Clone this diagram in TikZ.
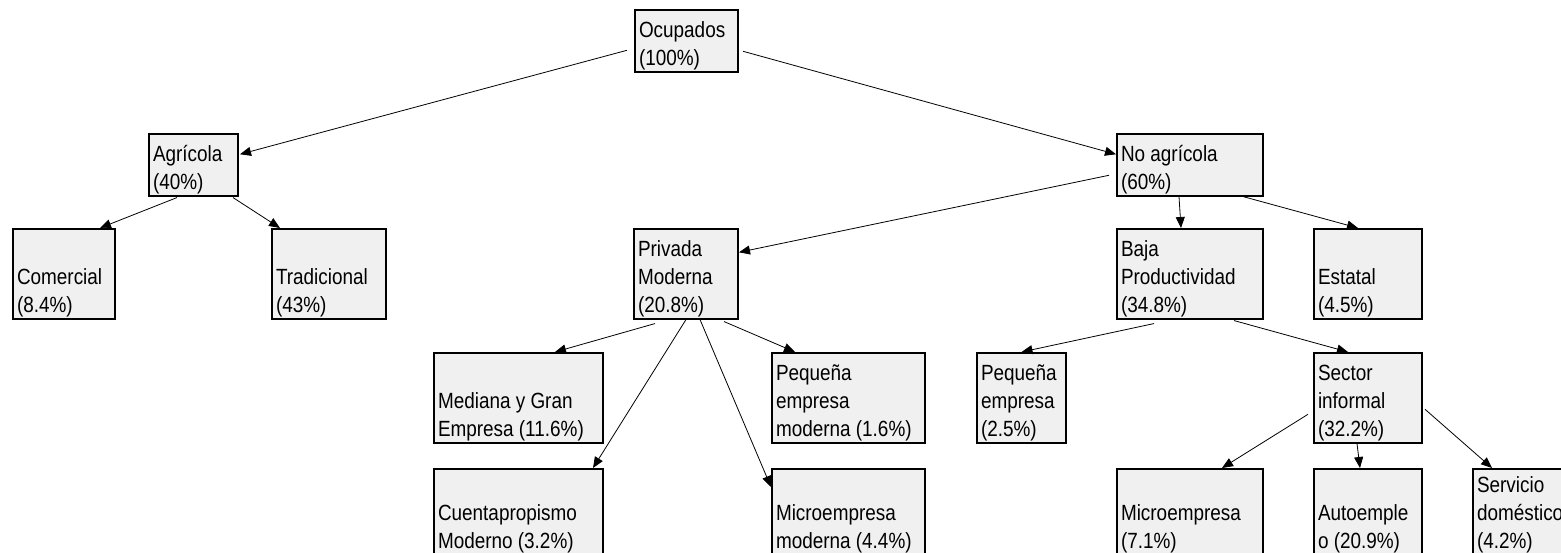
\documentclass[tikz,border=0pt]{standalone}
\usepackage{fontspec}
\setmainfont{Liberation Sans}[FakeStretch=0.86]
\usetikzlibrary{arrows.meta}
\newcommand{\celda}[3]{\parbox[c][\dimexpr#2pt-5pt\relax][b]{\dimexpr#1pt-10pt\relax}{\raggedright #3}}
\begin{document}
\begin{tikzpicture}[x=1pt, y=-1pt,
          caja/.style={draw, line width=2pt, fill=black!6, anchor=north west,
                       inner xsep=4pt, inner ysep=1.5pt, font=\fontsize{22}{28}\selectfont},
          flecha/.style={-{Triangle[length=11pt,width=9pt]}, line width=0.8pt}
    ]
    \useasboundingbox (0,0) rectangle (1561,552);
    \clip (0,0) rectangle (1561,552);

    % niveles superiores
    \node[caja] (ocup) at (634,9) {\celda{105}{59}{Ocupados\\(100\%)}};
    \node[caja] (agri) at (148,133) {\celda{91}{59}{Agrícola\\(40\%)}};
    \node[caja] (noagri) at (1116,133) {\celda{148}{59}{No agrícola\\(60\%)}};

    \node[caja] (comer) at (12,228) {\celda{104}{87}{Comercial\\(8.4\%)}};
    \node[caja] (tradi) at (271,228) {\celda{116}{87}{Tradicional\\(43\%)}};
    \node[caja] (privada) at (633,228) {\celda{106}{87}{Privada\\Moderna\\(20.8\%)}};
    \node[caja] (baja) at (1116,228) {\celda{148}{87}{Baja\\Productividad\\(34.8\%)}};
    \node[caja] (estatal) at (1313,228) {\celda{110}{87}{Estatal\\(4.5\%)}};

    % niveles inferiores
    \node[caja] (mediana) at (433,352) {\celda{171}{87}{Mediana y Gran\\Empresa (11.6\%)}};
    \node[caja] (pemod) at (771,352) {\celda{155}{87}{Pequeña\\empresa\\moderna (1.6\%)}};
    \node[caja] (peqemp) at (976,352) {\celda{91}{87}{Pequeña\\empresa\\(2.5\%)}};
    \node[caja] (sector) at (1313,352) {\celda{110}{87}{Sector\\informal\\(32.2\%)}};

    \node[caja] (cuenta) at (433,468) {\celda{171}{83}{Cuentapropismo\\Moderno (3.2\%)}};
    \node[caja] (micmod) at (771,468) {\celda{155}{83}{Microempresa\\moderna (4.4\%)}};
    \node[caja] (micro) at (1116,468) {\celda{148}{83}{Microempresa\\(7.1\%)}};
    \node[caja] (autoem) at (1313,468) {\celda{110}{83}{Autoemple\\o (20.9\%)}};
    \node[caja] (servicio) at (1472,468) {\celda{110}{83}{Servicio\\doméstico\\(4.2\%)}};

    % flechas
    \draw[flecha] ([xshift=-7pt,yshift=-9.5pt]ocup.west) -- ([xshift=1pt,yshift=10.5pt]agri.east);
    \draw[flecha] ([xshift=4pt,yshift=-10.5pt]ocup.east) -- ([yshift=10.5pt]noagri.west);
    \draw[flecha] ([xshift=-16.5pt,yshift=-1pt]agri.south) -- ([xshift=36pt]comer.north);
    \draw[flecha] ([xshift=39.5pt,yshift=-1pt]agri.south) -- ([xshift=-49pt]tradi.north);
    \draw[flecha] ([xshift=-7pt,yshift=-10.5pt]noagri.west) -- ([yshift=21.5pt]privada.east);
    \draw[flecha] ([xshift=-11pt]noagri.south) -- ([xshift=-9pt]baja.north);
    \draw[flecha] ([xshift=53pt]noagri.south) -- ([xshift=-10pt]estatal.north);
    \draw[flecha] ([xshift=-31pt,yshift=-4pt]privada.south) -- ([xshift=36.5pt]mediana.north);
    \draw[flecha] (privada.south) -- ([xshift=-11pt]cuenta.north east);
    \draw[flecha] ([xshift=14pt]privada.south) -- ([yshift=-19pt]micmod.north west);
    \draw[flecha] ([xshift=38pt,yshift=-2pt]privada.south) -- ([xshift=24pt]pemod.north west);
    \draw[flecha] ([xshift=-36pt,yshift=-4pt]baja.south) -- (peqemp.north);
    \draw[flecha] ([xshift=44pt,yshift=-1pt]baja.south) -- ([xshift=35pt]sector.north west);
    \draw[flecha] ([xshift=-5pt,yshift=-16.5pt]sector.west) -- ([xshift=-42pt]micro.north east);
    \draw[flecha] ([xshift=-11pt]sector.south) -- ([xshift=-8pt]autoem.north);
    \draw[flecha] ([xshift=2pt,yshift=-11.5pt]sector.east) -- ([xshift=20pt]servicio.north west);

\end{tikzpicture}
\end{document}
